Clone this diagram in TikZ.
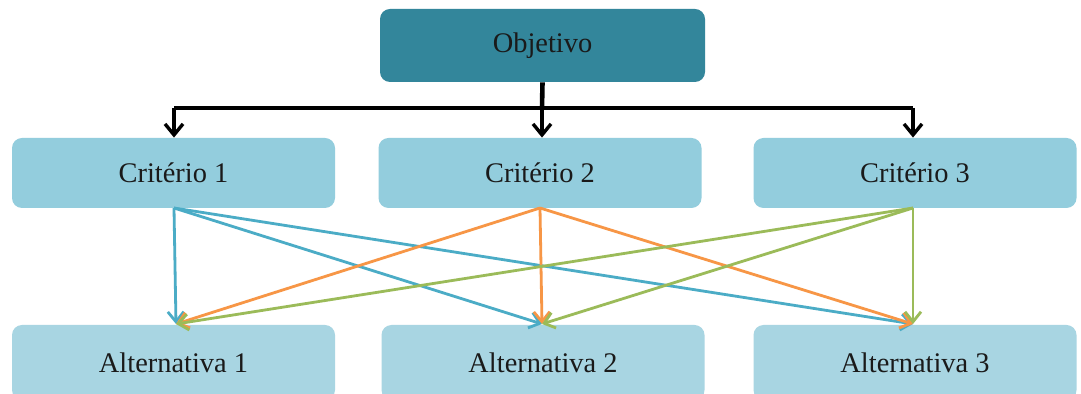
\documentclass[tikz,border=0pt]{standalone}
\usepackage{fontspec}
\setmainfont{Liberation Serif}
\usetikzlibrary{arrows.meta}
\definecolor{objc}{HTML}{33869B}
\definecolor{critc}{HTML}{93CDDD}
\definecolor{altc}{HTML}{A8D5E2}
\definecolor{blu}{HTML}{4BACC6}
\definecolor{ora}{HTML}{F79646}
\definecolor{grn}{HTML}{9BBB59}
\definecolor{txt}{HTML}{1A1A1A}
\tikzset{
  box/.style={rectangle, rounded corners=5pt, draw=none, text=txt,
    font=\fontsize{14.2}{16}\selectfont, inner sep=0pt},
  objbox/.style={box, fill=objc, minimum width=162.5pt, minimum height=36.5pt},
  critbox/.style={box, fill=critc, minimum width=161.5pt, minimum height=35pt},
  altbox/.style={box, fill=altc, minimum width=161.5pt, minimum height=37.5pt},
  blk/.style={draw=black, line width=1.7pt},
  blkarr/.style={blk, -{Straight Barb[length=5.5pt,width=9pt,line width=1.7pt]}},
  carr/.style={line width=1.4pt, -{Straight Barb[length=5pt,width=8pt,line width=1.4pt]}},
}
\begin{document}
\begin{tikzpicture}[x=0.5pt,y=-0.5pt]
\clip (0,0) rectangle (1081,394);
\useasboundingbox (0,0) rectangle (1081,394);
\fill[white] (0,0) rectangle (1081,394);
\node[objbox] (obj) at (542.5,45.5) {Objetivo};
\node[critbox] (c1) at (173.5,173) {Critério 1};
\node[critbox] (c2) at (540,173) {Critério 2};
\node[critbox] (c3) at (915,173) {Critério 3};
\node[altbox] (a1) at (173.5,362.5) {Alternativa 1};
\node[altbox] (a2) at (543,362.5) {Alternativa 2};
\node[altbox] (a3) at (915,362.5) {Alternativa 3};
% black tree
\coordinate (j) at (542,108);
\coordinate (l) at (174,108);
\coordinate (r) at (913,108);
\draw[blk, line width=2.3pt] (obj.south) -- (j);
\draw[blk] (l) -- (r);
\draw[blkarr] (l) -- (l |- c1.north);
\draw[blkarr] (j) -- (j |- c2.north);
\draw[blkarr] (r) -- (r |- c3.north);
% colored
\coordinate (s1) at (174,208);
\coordinate (s2) at (540,208);
\coordinate (s3) at (913,208);
\coordinate (e1) at (176,324);
\coordinate (e2) at (542,324);
\coordinate (e3) at (913,324);
\draw[carr, blu] (s1) -- (e1);
\draw[carr, blu] (s1) -- (e2);
\draw[carr, blu] (s1) -- (e3);
\draw[carr, ora] (s2) -- (e1);
\draw[carr, ora] (s2) -- (e2);
\draw[carr, ora] (s2) -- (e3);
\draw[carr, grn] (s3) -- (e1);
\draw[carr, grn] (s3) -- (e2);
\draw[carr, grn] (s3) -- (e3);
\end{tikzpicture}
\end{document}
